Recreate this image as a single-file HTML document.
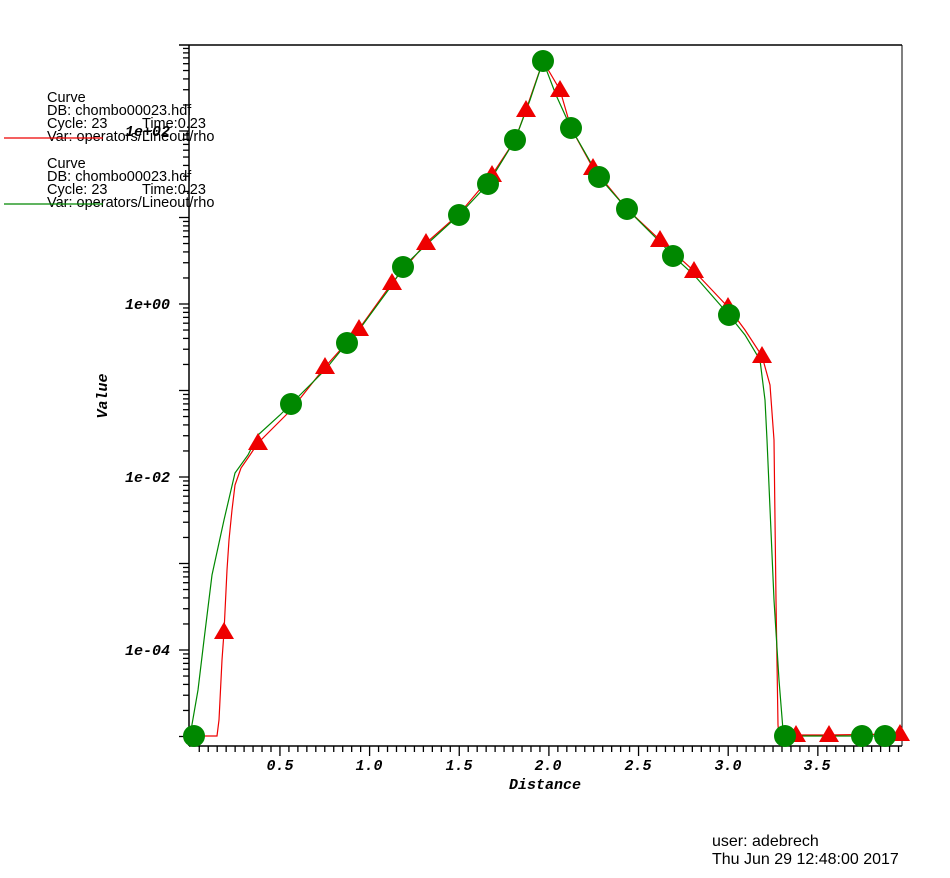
<!DOCTYPE html>
<html><head><meta charset="utf-8"><style>
body{margin:0;background:#fff;}
svg{display:block;}
.t{font-family:"Liberation Mono",monospace;font-weight:bold;font-style:italic;font-size:15px;fill:#000;}
.l{font-family:"Liberation Sans",sans-serif;font-size:14.5px;fill:#000;}
</style></head><body>
<svg id="s" width="950" height="878" xmlns="http://www.w3.org/2000/svg">
<rect width="950" height="878" fill="#fff"/>
<g id="ticks" stroke="#000" stroke-width="1.3"></g>
<line x1="189" y1="45" x2="189" y2="746" stroke="#000" stroke-width="1.5"/>
<line x1="179" y1="45" x2="902" y2="45" stroke="#000" stroke-width="1.5"/>
<line x1="189" y1="746" x2="902" y2="746" stroke="#000" stroke-width="1.5"/>
<line x1="902" y1="45" x2="902" y2="746" stroke="#000" stroke-width="1"/>
<text class="t" x="170" y="136" text-anchor="end">1e+02</text>
<text class="t" x="170" y="309" text-anchor="end">1e+00</text>
<text class="t" x="170" y="482" text-anchor="end">1e-02</text>
<text class="t" x="170" y="655" text-anchor="end">1e-04</text>
<text class="t" x="280" y="770" text-anchor="middle">0.5</text>
<text class="t" x="369" y="770" text-anchor="middle">1.0</text>
<text class="t" x="459" y="770" text-anchor="middle">1.5</text>
<text class="t" x="548" y="770" text-anchor="middle">2.0</text>
<text class="t" x="638" y="770" text-anchor="middle">2.5</text>
<text class="t" x="728" y="770" text-anchor="middle">3.0</text>
<text class="t" x="817" y="770" text-anchor="middle">3.5</text>
<text class="t" x="545" y="789" text-anchor="middle">Distance</text>
<text class="t" transform="translate(107,396) rotate(-90)" text-anchor="middle">Value</text>
<polyline fill="none" stroke="#e00" stroke-width="1.2" points="190,736 217,736 219,720 222,660 224,632 227,570 229,540 232,510 235,485 241,468 250,455 258,443 291,410 325,367 359,329 392,283 426,243 459,214 492,175 515,140 526,110 543,61 560,90 571,128 593,168 627,209 660,240 694,271 728,307 745,330 762,356 770,385 774,440 776,600 778,725 779,736 796,735 829,735 900,734"/>
<polyline fill="none" stroke="#080" stroke-width="1.2" points="190,736 198,690 204,640 212,575 224,520 235,473 248,455 258,435 280,415 291,404 325,370 347,343 359,330 392,285 403,267 426,245 459,215 488,184 515,140 530,100 543,61 556,95 571,128 599,177 627,209 660,242 673,256 694,275 729,315 745,335 760,360 765,400 767,440 774,600 779,680 783,730 785,736 902,736"/>
<g fill="#e00" id="tri"></g>
<g fill="#080" id="cir"></g>
<text class="l" x="47" y="102">Curve</text>
<text class="l" x="47" y="115">DB: chombo00023.hdf</text>
<text class="l" x="47" y="128">Cycle: 23</text><text class="l" x="142" y="128">Time:0.23</text>
<text class="l" x="47" y="141">Var: operators/Lineout/rho</text>
<line x1="4" y1="138" x2="103" y2="138" stroke="#e00" stroke-width="1.2"/>
<text class="l" x="47" y="168">Curve</text>
<text class="l" x="47" y="181">DB: chombo00023.hdf</text>
<text class="l" x="47" y="194">Cycle: 23</text><text class="l" x="142" y="194">Time:0.23</text>
<text class="l" x="47" y="207">Var: operators/Lineout/rho</text>
<line x1="4" y1="204" x2="103" y2="204" stroke="#080" stroke-width="1.2"/>
<text class="l" x="712" y="846" style="font-size:16px">user: adebrech</text>
<text class="l" x="712" y="864" style="font-size:16px">Thu Jun 29 12:48:00 2017</text>
</svg>
<script>
var NS="http://www.w3.org/2000/svg",tg=document.getElementById("ticks");
function ln(a,b,c,d){var e=document.createElementNS(NS,"line");e.setAttribute("x1",a);e.setAttribute("y1",b);e.setAttribute("x2",c);e.setAttribute("y2",d);tg.appendChild(e);}
var y0=131,dec=86.5;
for(var p=-5;p<=2;p++){for(var m=1;m<10;m++){var y=y0-(p-2+Math.log10(m))*dec;if(y<45||y>746)continue;ln(m==1?179:183,y,189,y);}}
for(var i=1;i<80;i++){var x=190.3+i*0.05*179.3;if(x>902)break;ln(x,746,x,i%10==0?756:752);}
var tri=[[224,632],[258,443],[325,367],[359,329],[392,283],[426,243],[492,175],[526,110],[560,90],[593,168],[660,240],[694,271],[728,307],[762,356],[796,735],[829,735],[900,734]];
var tgp=document.getElementById("tri");
tri.forEach(function(p){var e=document.createElementNS(NS,"polygon");var x=p[0],y=p[1];e.setAttribute("points",(x-10)+","+(y+7)+" "+(x+10)+","+(y+7)+" "+x+","+(y-10));tgp.appendChild(e);});
var cir=[[194,736],[291,404],[347,343],[403,267],[459,215],[488,184],[515,140],[543,61],[571,128],[599,177],[627,209],[673,256],[729,315],[785,736],[862,736],[885,736]];
var cg=document.getElementById("cir");
cir.forEach(function(p){var e=document.createElementNS(NS,"circle");e.setAttribute("cx",p[0]);e.setAttribute("cy",p[1]);e.setAttribute("r",11);cg.appendChild(e);});
</script>
</body></html>
